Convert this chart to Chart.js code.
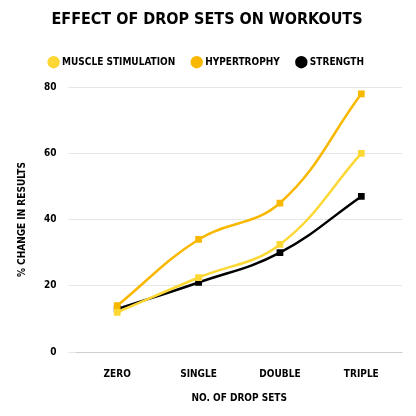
<!DOCTYPE html>
<html><head><script src="https://cdn.jsdelivr.net/npm/chart.js@4"></script>
<style>body{margin:0;background:#fff}#w{width:416px;height:416px}</style></head>
<body><div id="w"><canvas id="c"></canvas></div>
<script>
const categories=["Zero","Single","Double","Triple"];
const muscleStimulation=[12,22.5,32.5,60];
const hypertrophy=[14,34,45,78];
const strength=[13,21,30,47];
const yTicks=[0,20,40,60,80];
const F="'DejaVu Sans Condensed', 'DejaVu Sans', sans-serif";
function ds(label,data,color){return{label,data,borderColor:color,backgroundColor:color,pointStyle:'rect',pointRadius:3,borderWidth:2.5,tension:0.4,fill:false};}
new Chart(document.getElementById('c'),{type:'line',
data:{labels:categories.map(s=>s.toUpperCase()),datasets:[
ds('MUSCLE STIMULATION',muscleStimulation,'#FDD835'),
ds('HYPERTROPHY',hypertrophy,'#F9B800'),
ds('STRENGTH',strength,'#000000')]},
plugins:[{id:'lp',beforeInit(c){const f=c.legend.fit;c.legend.fit=function(){f.bind(c.legend)();this.height+=10;};}}],
options:{responsive:true,maintainAspectRatio:false,animation:false,
layout:{padding:{left:12,right:14,bottom:8}},
plugins:{title:{display:true,text:'EFFECT OF DROP SETS ON WORKOUTS',font:{family:F,size:16,weight:'bold'},color:'#000',padding:{top:10,bottom:10}},
legend:{labels:{usePointStyle:true,pointStyle:'circle',boxWidth:7,boxHeight:7,font:{family:F,size:10,weight:'bold'},color:'#000',padding:18}}},
scales:{x:{offset:true,grid:{display:false},ticks:{font:{family:F,size:10,weight:'bold'},color:'#000',padding:8},
title:{display:true,text:'NO. OF DROP SETS',font:{family:F,size:10,weight:'bold'},color:'#000'}},
y:{min:0,max:80,afterBuildTicks:a=>{a.ticks=yTicks.map(v=>({value:v}))},border:{display:false},grid:{color:'#e6e6e6'},ticks:{font:{family:F,size:10,weight:'bold'},color:'#000',padding:12},
title:{display:true,text:'% CHANGE IN RESULTS',font:{family:F,size:10,weight:'bold'},color:'#000'}}}}});
</script></body></html>
